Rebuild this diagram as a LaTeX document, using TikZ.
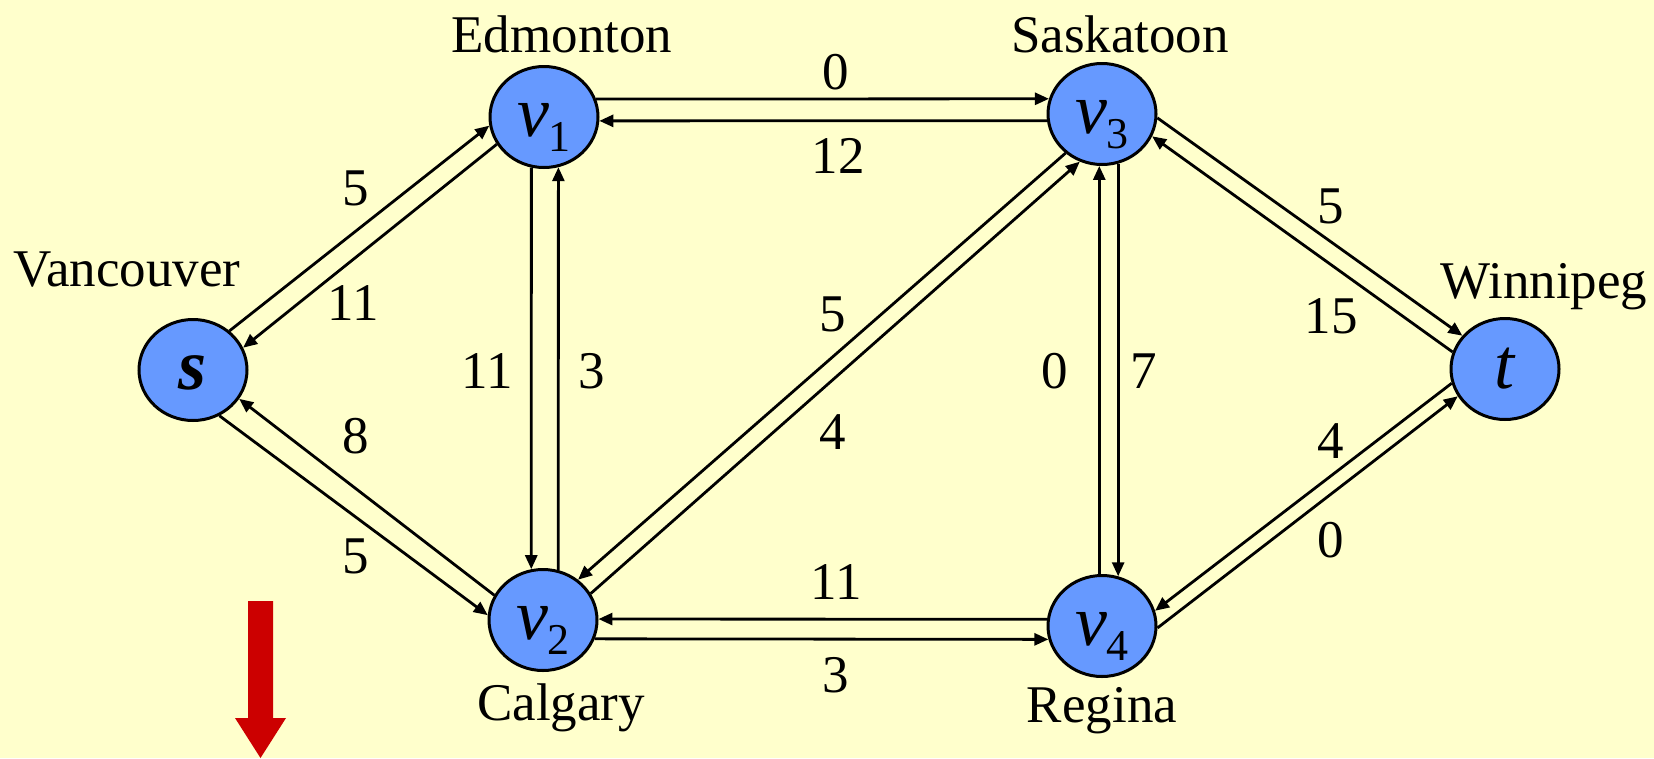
\documentclass[tikz,border=0pt]{standalone}
\usepackage{fontspec}
\setmainfont{Liberation Serif}
\usetikzlibrary{arrows.meta,shapes.geometric}
\definecolor{bgyellow}{RGB}{255,255,204}
\definecolor{nodeblue}{RGB}{102,153,255}
\definecolor{arrowred}{RGB}{204,0,0}
\newcommand{\vlab}[1]{\textit{v}\raisebox{-15pt}{\fontsize{44}{44}\selectfont #1}}
\begin{document}
\begin{tikzpicture}[x=1pt,y=-1pt,
  vertex/.style={ellipse, draw=black, line width=3pt, fill=nodeblue,
    minimum width=108pt, minimum height=101pt, inner sep=0pt,
    font=\fontsize{72}{72}\selectfont, text height=38pt, text depth=0pt},
  edge/.style={line width=2.8pt, -{Triangle[length=14pt,width=12pt]}},
  lab/.style={font=\fontsize{53}{53}\selectfont, inner sep=0pt},
  place/.style={font=\fontsize{53}{53}\selectfont, inner sep=0pt, anchor=base}]
\fill[bgyellow] (0,0) rectangle (1654,758);
\useasboundingbox (0,0) rectangle (1654,758);

% vertices
\node[vertex] (s)  at (193,370)  {\textbf{\textit{s}}};
\node[vertex] (v1) at (544,117)  {\vlab{1}};
\node[vertex] (v2) at (543,620)  {\vlab{2}};
\node[vertex] (v3) at (1102,114) {\vlab{3}};
\node[vertex] (v4) at (1102,626) {\vlab{4}};
\node[vertex] (t)  at (1505,369) {\textit{t}};

% place names
\node[place] (nEdm) at (562,52)  {Edmonton};
\node[place] (nSas) at (1120,52) {Saskatoon};
\node[place] (nVan) at (127,286) {Vancouver};
\node[place] (nWin) at (1544,298) {Winnipeg};
\node[place] (nCal) at (561,720) {Calgary};
\node[place] (nReg) at (1102,722) {Regina};

% edges
\draw[edge] (s.47) -- (v1.189);
\draw[edge] (v1.210) -- (s.24);
\draw[edge] (v2.153) -- (s.-32);
\draw[edge] (s.-60) -- (v2.175);
\draw[edge] (v1.19) -- (v3.164);
\draw[edge] (v3.-173) -- (v1.-4);
\draw[edge] (v1.256) -- (v2.103);
\draw[edge] (v2.73) -- (v1.-74);
\draw[edge] (v3.227) -- (v2.49);
\draw[edge] (v2.29) -- (v3.245);
\draw[edge] (v4.93) -- (v3.-93);
\draw[edge] (v3.-72) -- (v4.72);
\draw[edge] (v4.173) -- (v2.1);
\draw[edge] (v2.-20) -- (v4.-166);
\draw[edge] (v3.-4) -- (t.142);
\draw[edge] (t.162) -- (v3.-24);
\draw[edge] (t.195) -- (v4.16);
\draw[edge] (v4.-2) -- (t.210);

% edge labels
\node[lab] (l1)  at (356,188) {5};
\node[lab] (l2)  at (353,303) {11};
\node[lab] (l3)  at (356,436) {8};
\node[lab] (l4)  at (356,556) {5};
\node[lab] (l5)  at (836,72)  {0};
\node[lab] (l6)  at (838,156) {12};
\node[lab] (l7)  at (487,371) {11};
\node[lab] (l8)  at (592,371) {3};
\node[lab] (l9)  at (833,314) {5};
\node[lab] (l10) at (833,432) {4};
\node[lab] (l11) at (1055,371) {0};
\node[lab] (l12) at (1144,371) {7};
\node[lab] (l13) at (836,582) {11};
\node[lab] (l14) at (836,675) {3};
\node[lab] (l15) at (1331,206) {5};
\node[lab] (l16) at (1331,316) {15};
\node[lab] (l17) at (1331,441) {4};
\node[lab] (l18) at (1331,540) {0};

% red arrow
\fill[arrowred] (248,601) -- (273,601) -- (273,718) -- (286,718) -- (260.5,758)
  -- (235,718) -- (248,718) -- cycle;
\end{tikzpicture}
\end{document}
